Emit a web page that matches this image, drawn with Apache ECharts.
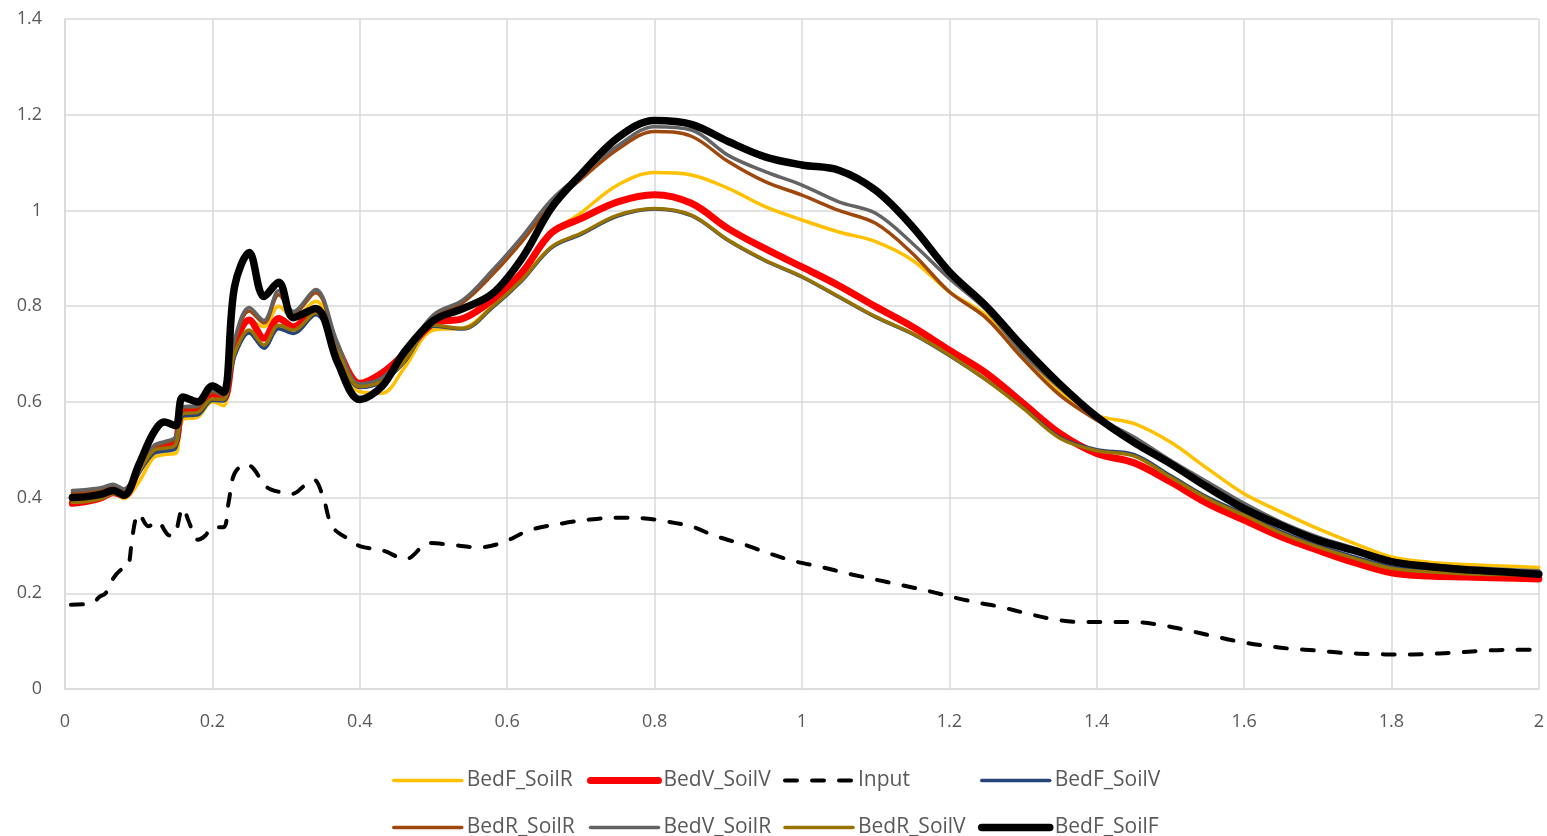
<!DOCTYPE html>
<html>
<head>
<meta charset="utf-8">
<script src="https://cdn.jsdelivr.net/npm/echarts@6/dist/echarts.min.js"></script>
<style>
  html, body { margin: 0; padding: 0; background: #fff; }
  #main { width: 1547px; height: 836px; }
</style>
</head>
<body>
<div id="main"></div>
<script>
// periods shared by the seven response curves
var periods = [0.01, 0.03, 0.05, 0.065, 0.08, 0.1, 0.12, 0.135, 0.15, 0.16, 0.18, 0.2, 0.215, 0.23, 0.25,
    0.27, 0.29, 0.31, 0.34, 0.37, 0.4, 0.43, 0.46, 0.5, 0.54, 0.58, 0.62, 0.66, 0.7, 0.75, 0.8, 0.85, 0.9,
    0.95, 1.0, 1.05, 1.1, 1.15, 1.2, 1.25, 1.3, 1.35, 1.4, 1.45, 1.5, 1.55, 1.6, 1.65, 1.7, 1.75, 1.8, 1.85,
    1.9, 1.95, 2.0];

var bedF_SoilR = [0.395, 0.397, 0.403, 0.410, 0.398, 0.432, 0.483, 0.490, 0.492, 0.563, 0.568, 0.600, 0.592,
    0.715, 0.770, 0.757, 0.800, 0.776, 0.810, 0.705, 0.621, 0.618, 0.670, 0.750, 0.754, 0.800, 0.862, 0.950,
    0.995, 1.053, 1.079, 1.074, 1.046, 1.008, 0.980, 0.955, 0.935, 0.896, 0.830, 0.781, 0.698, 0.620, 0.572,
    0.555, 0.516, 0.461, 0.408, 0.370, 0.335, 0.304, 0.276, 0.265, 0.260, 0.257, 0.254];

var bedV_SoilV = [0.388, 0.392, 0.400, 0.410, 0.405, 0.458, 0.500, 0.507, 0.515, 0.585, 0.584, 0.617, 0.607,
    0.715, 0.771, 0.733, 0.774, 0.757, 0.792, 0.710, 0.639, 0.660, 0.700, 0.764, 0.774, 0.813, 0.870, 0.953,
    0.983, 1.018, 1.033, 1.015, 0.962, 0.920, 0.882, 0.843, 0.799, 0.757, 0.708, 0.660, 0.597, 0.534, 0.492,
    0.473, 0.433, 0.388, 0.353, 0.318, 0.290, 0.264, 0.243, 0.236, 0.234, 0.232, 0.230];

var bedF_SoilV = [0.392, 0.394, 0.400, 0.410, 0.402, 0.450, 0.492, 0.497, 0.503, 0.570, 0.573, 0.603, 0.602,
    0.694, 0.744, 0.712, 0.753, 0.743, 0.782, 0.703, 0.630, 0.641, 0.682, 0.758, 0.752, 0.797, 0.853, 0.922,
    0.950, 0.988, 1.003, 0.989, 0.937, 0.895, 0.861, 0.819, 0.777, 0.742, 0.697, 0.646, 0.588, 0.526, 0.500,
    0.490, 0.446, 0.401, 0.366, 0.329, 0.300, 0.276, 0.255, 0.248, 0.244, 0.242, 0.241];

var bedR_SoilR = [0.410, 0.412, 0.416, 0.424, 0.413, 0.460, 0.505, 0.514, 0.523, 0.587, 0.589, 0.621, 0.612,
    0.725, 0.790, 0.765, 0.824, 0.785, 0.828, 0.718, 0.634, 0.647, 0.697, 0.778, 0.808, 0.866, 0.935, 1.012,
    1.065, 1.128, 1.165, 1.155, 1.102, 1.060, 1.032, 1.000, 0.973, 0.910, 0.830, 0.775, 0.690, 0.614, 0.562,
    0.520, 0.475, 0.429, 0.384, 0.346, 0.315, 0.292, 0.267, 0.258, 0.252, 0.248, 0.246];

var bedV_SoilR = [0.415, 0.417, 0.421, 0.428, 0.418, 0.462, 0.508, 0.517, 0.527, 0.590, 0.592, 0.624, 0.615,
    0.730, 0.797, 0.770, 0.832, 0.789, 0.835, 0.723, 0.638, 0.650, 0.700, 0.782, 0.813, 0.875, 0.945, 1.022,
    1.075, 1.135, 1.175, 1.168, 1.115, 1.081, 1.053, 1.018, 0.994, 0.931, 0.858, 0.792, 0.701, 0.629, 0.569,
    0.527, 0.478, 0.433, 0.388, 0.349, 0.318, 0.294, 0.269, 0.260, 0.254, 0.250, 0.247];

var bedR_SoilV = [0.390, 0.392, 0.398, 0.408, 0.403, 0.453, 0.498, 0.503, 0.510, 0.575, 0.578, 0.606, 0.605,
    0.700, 0.750, 0.719, 0.760, 0.750, 0.786, 0.705, 0.632, 0.643, 0.684, 0.760, 0.754, 0.799, 0.855, 0.924,
    0.952, 0.990, 1.004, 0.990, 0.938, 0.896, 0.862, 0.820, 0.778, 0.743, 0.698, 0.646, 0.587, 0.524, 0.498,
    0.487, 0.443, 0.398, 0.363, 0.326, 0.297, 0.273, 0.252, 0.245, 0.241, 0.239, 0.238];

var bedF_SoilF = [0.400, 0.402, 0.407, 0.415, 0.405, 0.468, 0.535, 0.558, 0.550, 0.610, 0.600, 0.633, 0.620,
    0.840, 0.912, 0.820, 0.850, 0.776, 0.795, 0.682, 0.605, 0.632, 0.703, 0.770, 0.795, 0.826, 0.900, 1.005,
    1.075, 1.152, 1.188, 1.180, 1.144, 1.112, 1.095, 1.084, 1.042, 0.966, 0.872, 0.800, 0.715, 0.637, 0.569,
    0.516, 0.471, 0.422, 0.377, 0.342, 0.311, 0.289, 0.266, 0.256, 0.249, 0.245, 0.240];

// input spectrum has its own sampling (more wiggles at short periods)
var inputPeriods = [0.008, 0.025, 0.04, 0.047, 0.055, 0.065, 0.075, 0.085, 0.09, 0.095, 0.1, 0.113, 0.125,
    0.14, 0.147, 0.16, 0.168, 0.18, 0.19, 0.2, 0.215, 0.222, 0.23, 0.246, 0.256, 0.273, 0.29, 0.309, 0.325,
    0.338, 0.35, 0.363, 0.386, 0.401, 0.43, 0.463, 0.494, 0.525, 0.561, 0.592, 0.631, 0.675, 0.711, 0.747,
    0.783, 0.809, 0.851, 0.882, 0.923, 0.954, 0.99, 1.026, 1.063, 1.099, 1.135, 1.171, 1.21, 1.24, 1.268,
    1.305, 1.341, 1.378, 1.412, 1.449, 1.486, 1.522, 1.557, 1.593, 1.63, 1.664, 1.701, 1.737, 1.774, 1.811,
    1.846, 1.885, 1.924, 1.963, 2.0];
var input = [0.176, 0.177, 0.183, 0.193, 0.200, 0.230, 0.248, 0.255, 0.300, 0.350, 0.366, 0.340, 0.350,
    0.322, 0.320, 0.378, 0.350, 0.312, 0.320, 0.338, 0.338, 0.390, 0.450, 0.470, 0.460, 0.423, 0.412, 0.408,
    0.425, 0.437, 0.402, 0.339, 0.312, 0.298, 0.290, 0.272, 0.305, 0.301, 0.296, 0.305, 0.332, 0.346, 0.354,
    0.358, 0.357, 0.352, 0.339, 0.320, 0.301, 0.284, 0.267, 0.255, 0.241, 0.229, 0.217, 0.205, 0.190, 0.180,
    0.172, 0.158, 0.146, 0.140, 0.140, 0.140, 0.134, 0.123, 0.111, 0.099, 0.090, 0.084, 0.080, 0.075, 0.073,
    0.072, 0.073, 0.076, 0.080, 0.082, 0.082];

function pairs(xs, ys) {
    return xs.map(function (x, i) { return [x, ys[i]]; });
}

function curve(name, xs, ys, color, width, dash) {
    return {
        name: name,
        type: 'line',
        data: pairs(xs, ys),
        smooth: 0.35,
        symbol: 'none',
        lineStyle: { color: color, width: width, type: dash || 'solid', cap: 'round', join: 'round' },
        itemStyle: { color: color }
    };
}

var txt = '#595959';
var gridColor = '#d9d9d9';

// one vertical legend per column so the columns line up like the original
function legendCol(left, names) {
    return {
        orient: 'vertical',
        left: left,
        top: 770,
        height: 120,
        padding: 0,
        itemGap: 26,
        itemWidth: 68,
        itemHeight: 14,
        itemStyle: { opacity: 0 },
        lineStyle: { width: 'inherit' },
        textStyle: { color: txt, fontSize: 21, fontFamily: 'Open Sans', lineHeight: 20 },
        data: names
    };
}

var chart = echarts.init(document.getElementById('main'));

chart.setOption({
    animation: false,
    backgroundColor: '#fff',
    grid: { left: 65, right: 4, top: 19, bottom: 147 },
    legend: [
        legendCol(392, ['BedF_SoilR', 'BedR_SoilR']),
        legendCol(587, ['BedV_SoilV', 'BedV_SoilR']),
        legendCol(783, ['Input', 'BedR_SoilV']),
        legendCol(978, ['BedF_SoilV', 'BedF_SoilF'])
    ],
    xAxis: {
        type: 'value',
        min: 0,
        max: 2,
        interval: 0.2,
        axisLine: { show: true, lineStyle: { color: gridColor, width: 1.5 } },
        axisTick: { show: false },
        splitLine: { show: true, lineStyle: { color: gridColor, width: 1.5 } },
        axisLabel: {
            color: txt, fontSize: 18, fontFamily: 'Open Sans', margin: 24,
            formatter: function (v) { return String(+v.toFixed(1)); }
        }
    },
    yAxis: {
        type: 'value',
        min: 0,
        max: 1.4,
        interval: 0.2,
        axisLine: { show: true, lineStyle: { color: gridColor, width: 1.5 } },
        axisTick: { show: false },
        splitLine: { show: true, lineStyle: { color: gridColor, width: 1.5 } },
        axisLabel: {
            color: txt, fontSize: 18, fontFamily: 'Open Sans', margin: 23,
            formatter: function (v) { return String(+v.toFixed(1)); }
        }
    },
    series: [
        curve('BedF_SoilR', periods, bedF_SoilR, '#FFC000', 3.5),
        curve('BedV_SoilV', periods, bedV_SoilV, '#FF0000', 7),
        curve('Input', inputPeriods, input, '#000000', 4, [12, 15]),
        curve('BedF_SoilV', periods, bedF_SoilV, '#264478', 3.5),
        curve('BedR_SoilR', periods, bedR_SoilR, '#9E480E', 3.5),
        curve('BedV_SoilR', periods, bedV_SoilR, '#636363', 3.5),
        curve('BedR_SoilV', periods, bedR_SoilV, '#997300', 3.5),
        curve('BedF_SoilF', periods, bedF_SoilF, '#000000', 7.5)
    ]
});
</script>
</body>
</html>
